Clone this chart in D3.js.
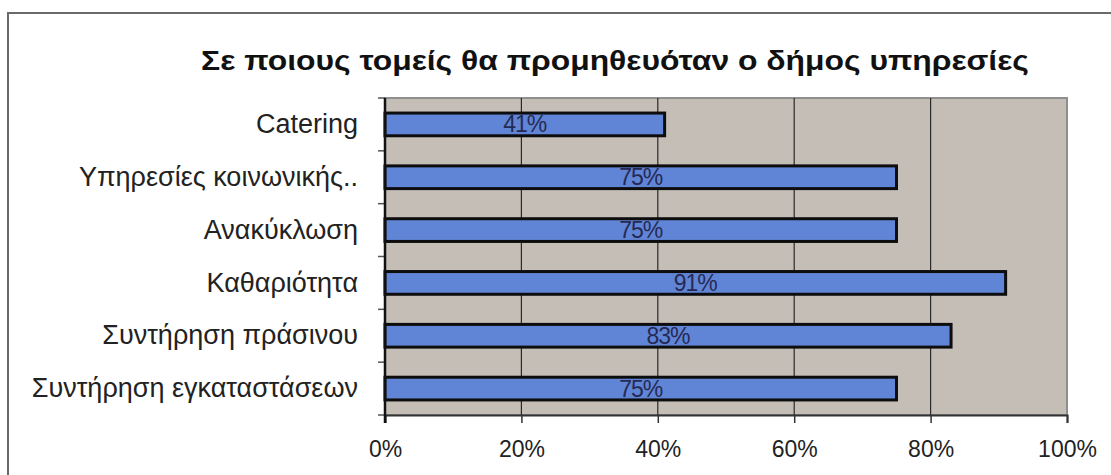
<!DOCTYPE html>
<html>
<head>
<meta charset="utf-8">
<script src="https://cdn.jsdelivr.net/npm/d3@7"></script>
<style>
  body { margin: 0; background: #fff; }
  svg { display: block; font-family: "Liberation Sans", Arial, sans-serif; }
</style>
</head>
<body>
<div id="chart"></div>
<script>
const title = "Σε ποιους τομείς θα προμηθευόταν ο δήμος υπηρεσίες";
const categories = [
  "Catering",
  "Υπηρεσίες κοινωνικής..",
  "Ανακύκλωση",
  "Καθαριότητα",
  "Συντήρηση πράσινου",
  "Συντήρηση εγκαταστάσεων"
];
const values = [0.41, 0.75, 0.75, 0.91, 0.83, 0.75];
const xTicks = [0, 0.2, 0.4, 0.6, 0.8, 1.0];

const width = 1111, height = 475;
const margin = { top: 98, right: 44, bottom: 60, left: 385 };

const svg = d3.select("#chart").append("svg")
  .attr("width", width)
  .attr("height", height);

// outer frame (top + left only visible)
svg.append("path")
  .attr("d", `M8,${height} L8,13 L${width},13`)
  .attr("fill", "none")
  .attr("stroke", "#6a6a6a")
  .attr("stroke-width", 2);

// title, stretched a bit to match the wide original
svg.append("text")
  .attr("transform", "translate(615,70) scale(1.18,1)")
  .attr("text-anchor", "middle")
  .attr("font-size", 27)
  .attr("font-weight", "bold")
  .attr("fill", "#111")
  .text(title);

const x = d3.scaleLinear()
  .domain([0, 1])
  .range([margin.left, width - margin.right]);

const y = d3.scaleBand()
  .domain(categories)
  .range([margin.top, height - margin.bottom])
  .paddingInner(0.57)
  .paddingOuter(0.285);

const plotTop = margin.top, plotBottom = height - margin.bottom;

// plot background
svg.append("rect")
  .attr("x", x(0))
  .attr("y", plotTop)
  .attr("width", x(1) - x(0))
  .attr("height", plotBottom - plotTop)
  .attr("fill", "#c5beb7")
  .attr("stroke", "#8f8f8f")
  .attr("stroke-width", 2);

// gridlines
svg.append("g")
  .selectAll("line")
  .data(xTicks.slice(1, -1))
  .join("line")
  .attr("x1", d => x(d))
  .attr("x2", d => x(d))
  .attr("y1", plotTop)
  .attr("y2", plotBottom)
  .attr("stroke", "#2a2a2a")
  .attr("stroke-width", 1.2);

// bars
svg.append("g")
  .selectAll("rect")
  .data(values)
  .join("rect")
  .attr("x", x(0))
  .attr("y", (d, i) => y(categories[i]))
  .attr("width", d => x(d) - x(0))
  .attr("height", y.bandwidth())
  .attr("fill", "#6185d6")
  .attr("stroke", "#0d0d0d")
  .attr("stroke-width", 3);

// value labels
svg.append("g")
  .selectAll("text")
  .data(values)
  .join("text")
  .attr("x", d => (x(0) + x(d)) / 2)
  .attr("y", (d, i) => y(categories[i]) + y.bandwidth() / 2 + 8)
  .attr("text-anchor", "middle")
  .attr("font-size", 23)
  .attr("letter-spacing", -1)
  .attr("fill", "#252a55")
  .text(d => d3.format(".0%")(d));

// x axis
const xAxis = svg.append("g")
  .attr("transform", `translate(0,${plotBottom})`)
  .call(d3.axisBottom(x).tickValues(xTicks).tickFormat(d3.format(".0%")).tickSize(8).tickPadding(18));
xAxis.select(".domain").attr("stroke", "#333").attr("stroke-width", 2);
xAxis.selectAll(".tick line").attr("stroke", "#333").attr("stroke-width", 1.5);
xAxis.selectAll("text")
  .attr("font-size", 23)
  .attr("font-family", "Liberation Sans, Arial, sans-serif")
  .attr("fill", "#222");

// y axis with ticks at category boundaries
const yAxis = svg.append("g")
  .attr("transform", `translate(${x(0)},0)`)
  .call(d3.axisLeft(y).tickSize(0).tickPadding(27));
yAxis.select(".domain").remove();
yAxis.selectAll("text")
  .attr("font-size", 27)
  .attr("font-family", "Liberation Sans, Arial, sans-serif")
  .attr("fill", "#222");

const step = (plotBottom - plotTop) / categories.length;
svg.append("g")
  .selectAll("line")
  .data(d3.range(categories.length + 1))
  .join("line")
  .attr("x1", x(0) - 7)
  .attr("x2", x(0))
  .attr("y1", i => plotTop + i * step)
  .attr("y2", i => plotTop + i * step)
  .attr("stroke", "#555")
  .attr("stroke-width", 1.5);

svg.append("line")
  .attr("x1", x(0))
  .attr("x2", x(0))
  .attr("y1", plotTop)
  .attr("y2", plotBottom + 8)
  .attr("stroke", "#111")
  .attr("stroke-width", 2.5);
</script>
</body>
</html>
